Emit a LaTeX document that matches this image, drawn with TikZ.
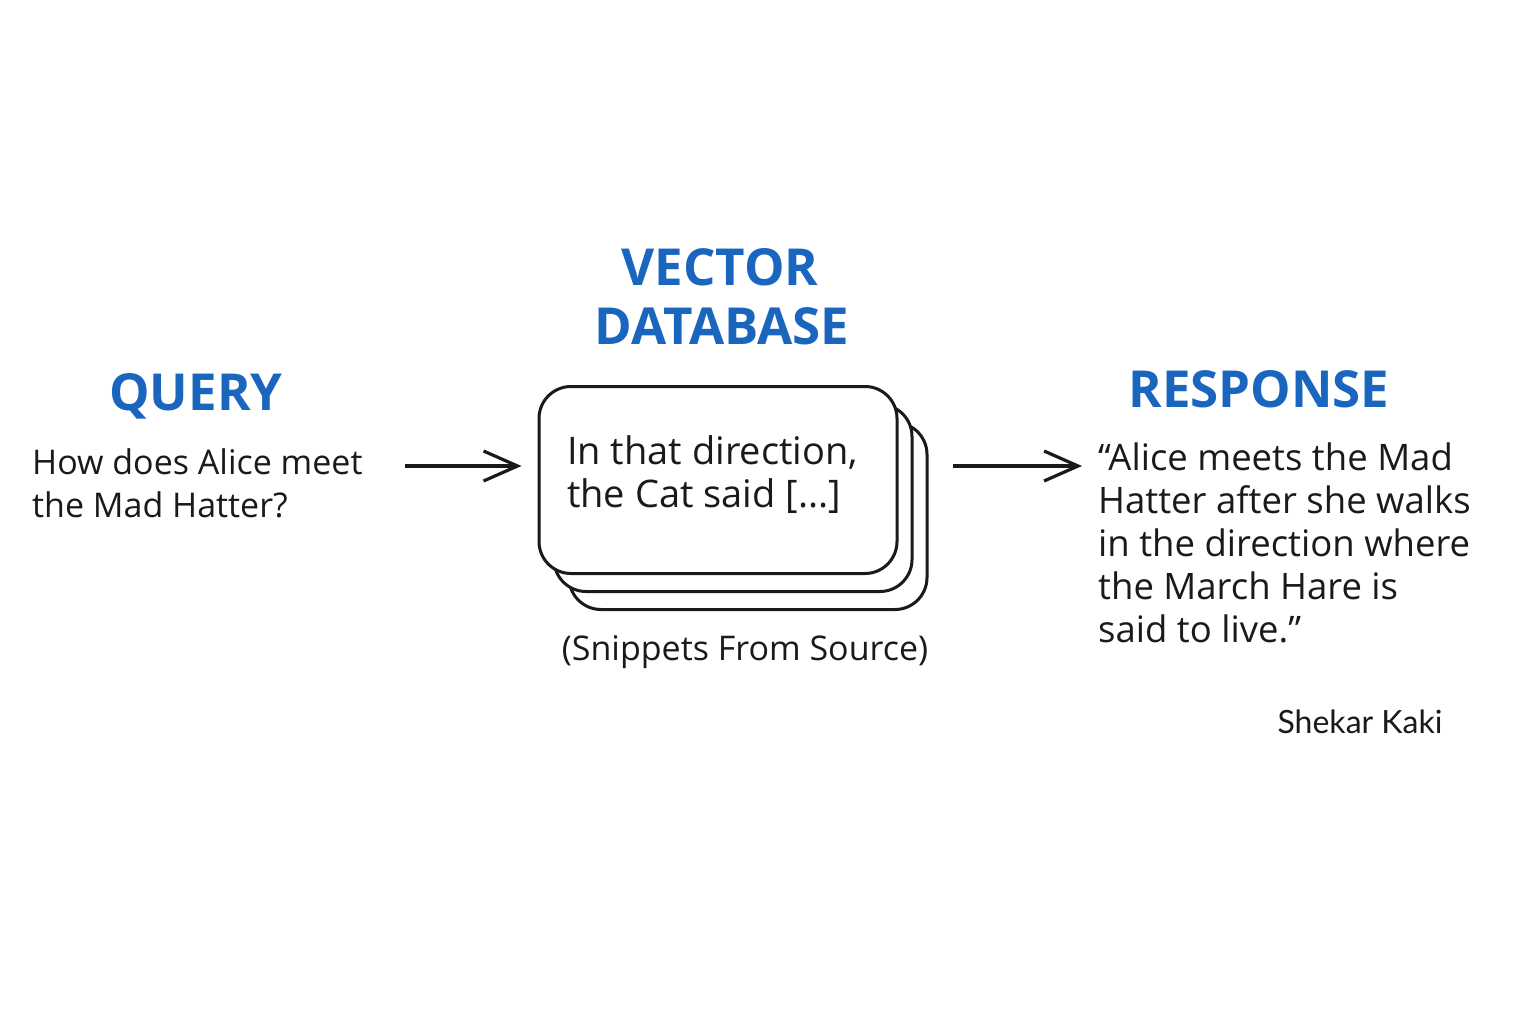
\documentclass[tikz,border=0pt]{standalone}
\usepackage{fontspec}
\setmainfont{Open Sans}
\newfontfamily\sigfont{Lato}
\usetikzlibrary{arrows.meta}
\definecolor{titleblue}{HTML}{1A66BF}
\definecolor{ink}{HTML}{1A1A1A}
\begin{document}
\begin{tikzpicture}[x=1pt,y=-1pt,
 title/.style={text=titleblue, font=\bfseries\fontsize{51}{60}\selectfont, inner sep=0pt, anchor=base},
 body/.style={text=ink, font=\fontsize{34}{43}\selectfont, inner sep=0pt, align=left, anchor=base west},
 card/.style={draw=ink, line width=3pt, rounded corners=32pt, fill=white, minimum width=358pt, minimum height=187pt, inner sep=0pt},
 arr/.style={draw=ink, line width=3.2pt, -{Straight Barb[length=34pt,width=30pt]}}]
\useasboundingbox[fill=white] (0,0) rectangle (1536,1024);

% titles
\node[title] (tq) at (196,410) {QUERY};
\node[title] (tv1) at (720,285) {VECTOR};
\node[title] (tv2) at (722,344) {DATABASE};
\node[title] (tr) at (1259,407) {RESPONSE};

% query text (anchor = baseline of last line)
\node[body] (qtext) at (32,517) {How does Alice meet\\the Mad Hatter?};

% stacked cards
\node[card] (back2) at (748,516) {};
\node[card] (back1) at (733,498) {};
\node[card] (front) at (718,480) {};
\node[body, font=\fontsize{38}{43}\selectfont] (ctext) at (567,507) {In that direction,\\the Cat said [...]};
\node[body, anchor=base] (src) at (745,660) {(Snippets From Source)};

% response text
\node[body, font=\fontsize{36.5}{43}\selectfont] (resp) at (1098,642) {``Alice meets the Mad\\Hatter after she walks\\in the direction where\\the March Hare is\\said to live.''};

% signature
\node[text=ink, font=\sigfont\fontsize{32}{38}\selectfont, inner sep=0pt, anchor=base] (sig) at (1360,733) {Shekar Kaki};

% connectors
\coordinate (a1) at (405,466);
\coordinate (a2) at (953,466);
\draw[arr, shorten >=16pt] (a1) -- (a1 -| front.west);
\draw[arr, shorten >=16pt] (a2) -- (a2 -| resp.west);
\end{tikzpicture}
\end{document}
